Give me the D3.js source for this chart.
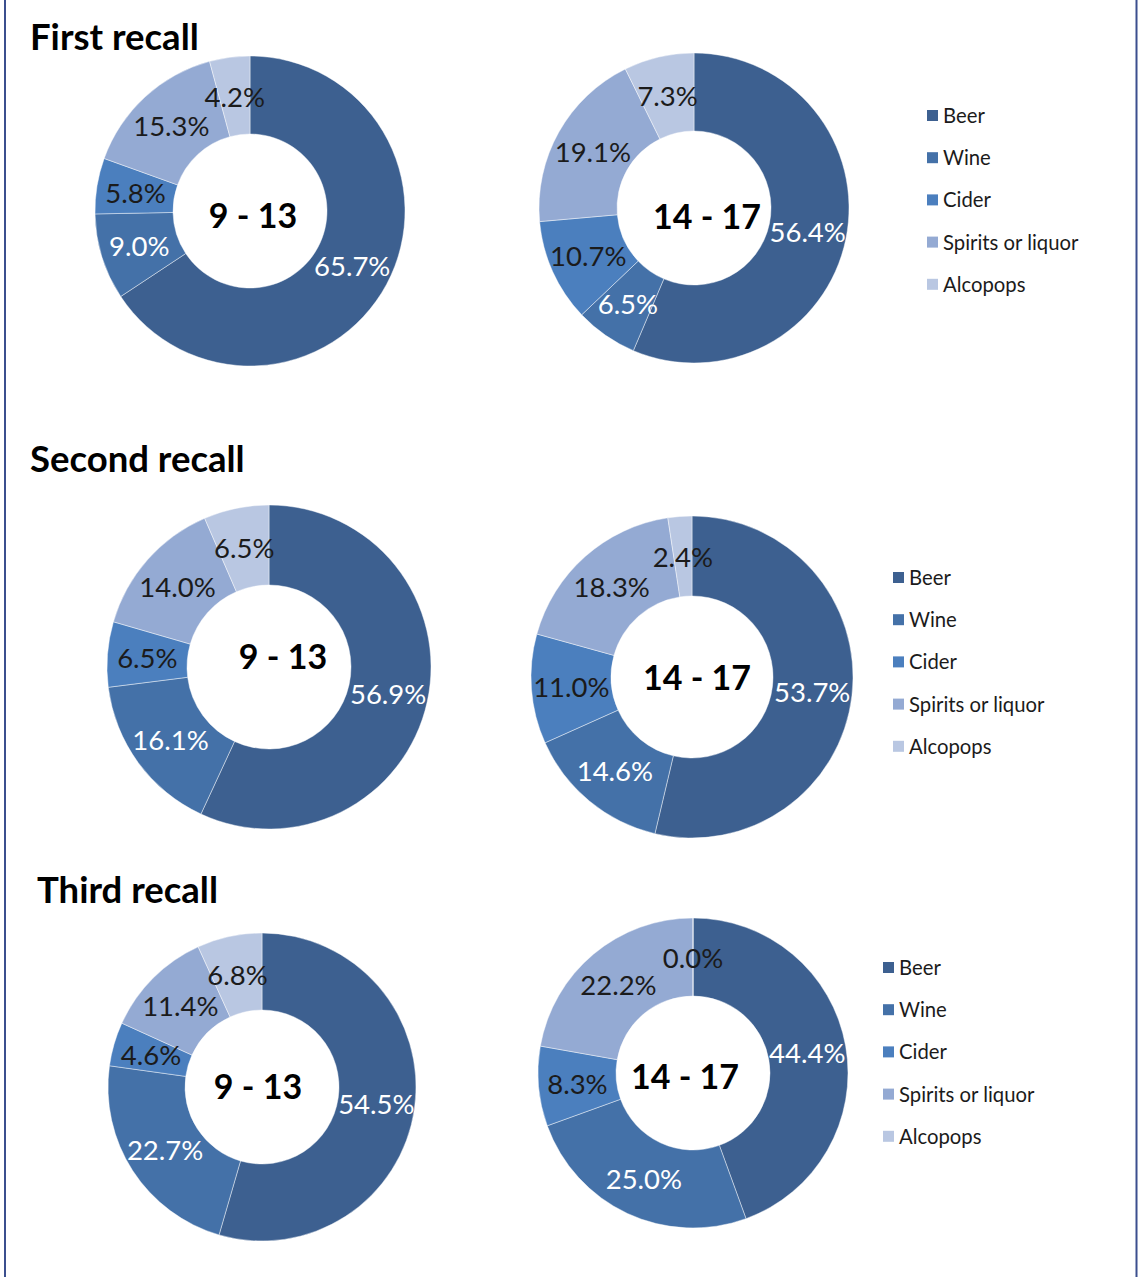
<!DOCTYPE html>
<html>
<head>
<meta charset="utf-8">
<script src="https://cdn.jsdelivr.net/npm/d3@7"></script>
<style>
  html, body { margin: 0; padding: 0; background: #fff; }
  svg { display: block; }
</style>
</head>
<body>
<svg id="chart" width="1138" height="1277"></svg>
<script>
// ---- data ----
const categories = ["Beer", "Wine", "Cider", "Spirits or liquor", "Alcopops"];
const recallTitles = ["First recall", "Second recall", "Third recall"];
const ageGroups = ["9 - 13", "14 - 17"];

const first_9_13   = [65.7, 9.0, 5.8, 15.3, 4.2];
const first_14_17  = [56.4, 6.5, 10.7, 19.1, 7.3];
const second_9_13  = [56.9, 16.1, 6.5, 14.0, 6.5];
const second_14_17 = [53.7, 14.6, 11.0, 18.3, 2.4];
const third_9_13   = [54.5, 22.7, 4.6, 11.4, 6.8];
const third_14_17  = [44.4, 25.0, 8.3, 22.2, 0.0];

// ---- style / layout ----
const colors = ["#3d6090", "#4471a8", "#4b7fbe", "#94aad3", "#b9c7e2"];
const labelColors = ["#ffffff", "#ffffff", "#1b1b1b", "#1b1b1b", "#1b1b1b"];
const FONT = "Lato, 'Open Sans', sans-serif";

const panels = [
  { values: first_9_13,   group: 0, cx: 250, cy: 211,  R: 155, r: 77, dx: 3,  dy: 3 },
  { values: first_14_17,  group: 1, cx: 694, cy: 208,  R: 155, r: 77, dx: 13, dy: 7 },
  { values: second_9_13,  group: 0, cx: 269, cy: 667,  R: 162, r: 82, dx: 14, dy: -12 },
  { values: second_14_17, group: 1, cx: 692, cy: 677,  R: 161, r: 81, dx: 5,  dy: -1 },
  { values: third_9_13,   group: 0, cx: 262, cy: 1087, R: 154, r: 77, dx: -4, dy: -2 },
  { values: third_14_17,  group: 1, cx: 693, cy: 1073, R: 155, r: 77, dx: -8, dy: 2 }
];
const titles = [
  { x: 30, y: 50 }, { x: 30, y: 472 }, { x: 37, y: 903 }
];
const legends = [
  { x: 927, y: 115 }, { x: 893, y: 577 }, { x: 883, y: 967 }
];
const legendStep = 42.2;

const svg = d3.select("#chart");

// frame side lines
svg.append("line").attr("x1", 5).attr("x2", 5).attr("y1", 0).attr("y2", 1277)
  .attr("stroke", "#3b4f8e").attr("stroke-width", 2);
svg.append("line").attr("x1", 1136.5).attr("x2", 1136.5).attr("y1", 0).attr("y2", 1277)
  .attr("stroke", "#3b4f8e").attr("stroke-width", 2);

// titles
titles.forEach((t, i) => {
  svg.append("text").attr("x", t.x).attr("y", t.y)
    .attr("font-family", FONT).attr("font-weight", 700).attr("font-size", 36.5)
    .attr("fill", "#000").text(recallTitles[i]);
});

const pie = d3.pie().sort(null).value(d => d);
const color = d3.scaleOrdinal().domain(categories).range(colors);

panels.forEach(p => {
  const g = svg.append("g").attr("transform", `translate(${p.cx},${p.cy})`);
  const arc = d3.arc().innerRadius(p.r).outerRadius(p.R);
  const arcs = pie(p.values);
  g.selectAll("path").data(arcs).join("path")
    .attr("d", arc)
    .attr("fill", (d, i) => color(categories[i]))
    .attr("stroke", "rgba(255,255,255,0.55)").attr("stroke-width", 0.8);
  g.selectAll("text.lbl").data(arcs).join("text")
    .attr("class", "lbl")
    .attr("transform", d => `translate(${arc.centroid(d)})`)
    .attr("text-anchor", "middle").attr("dominant-baseline", "central")
    .attr("font-family", FONT).attr("font-size", 27.5)
    .attr("fill", (d, i) => labelColors[i])
    .text(d => d.data.toFixed(1) + "%");
  g.append("text").attr("x", p.dx).attr("y", p.dy)
    .attr("text-anchor", "middle").attr("dominant-baseline", "central")
    .attr("font-family", FONT).attr("font-weight", 700).attr("font-size", 34)
    .attr("fill", "#000").text(ageGroups[p.group]);
});

// legends
legends.forEach(L => {
  const lg = svg.append("g").attr("transform", `translate(${L.x},${L.y})`);
  categories.forEach((c, i) => {
    lg.append("rect").attr("x", 0).attr("y", i * legendStep - 5)
      .attr("width", 11).attr("height", 11).attr("fill", color(c));
    lg.append("text").attr("x", 16).attr("y", i * legendStep)
      .attr("dominant-baseline", "central")
      .attr("font-family", FONT).attr("font-size", 20.3).attr("fill", "#1b1b1b")
      .text(c);
  });
});
</script>
</body>
</html>
